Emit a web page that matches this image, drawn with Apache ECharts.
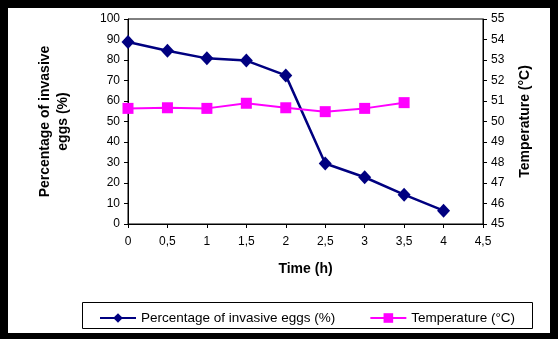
<!DOCTYPE html>
<html><head><meta charset="utf-8">
<script src="https://cdn.jsdelivr.net/npm/echarts@6/dist/echarts.min.js"></script>
<style>
html,body{margin:0;padding:0;background:#000;width:558px;height:339px;overflow:hidden}
#c{position:absolute;left:8px;top:8px;width:542px;height:325px;background:#fff}
</style></head><body>
<div id="c"></div>
<script>
const times = [0, 0.5, 1, 1.5, 2, 2.5, 3, 3.5, 4];
const invasive = [88.8, 84.5, 80.8, 79.7, 72.5, 29.5, 22.8, 14.3, 6.5];
const tempTimes = [0, 0.5, 1, 1.5, 2, 2.5, 3, 3.5];
const temperature = [50.64, 50.67, 50.64, 50.89, 50.67, 50.48, 50.64, 50.92];
const seriesNames = ['Percentage of invasive eggs (%)', 'Temperature (°C)'];

const F = 'Liberation Sans, Arial, sans-serif';
const chart = echarts.init(document.getElementById('c'), null, {renderer:'canvas'});
chart.setOption({
  animation:false,
  backgroundColor:'#fff',
  textStyle:{fontFamily:F},
  grid:{left:120, top:11, width:355, height:205, show:true, borderColor:'#000', borderWidth:1, backgroundColor:'transparent'},
  graphic:[{type:'rect', left:72, top:292, shape:{width:450, height:26}, style:{fill:'none', stroke:'#000', lineWidth:1}, z:-1}],
  legend:{
    left:86, top:298, itemWidth:36, itemHeight:12, itemGap:34,
    textStyle:{fontFamily:F, fontSize:13.5, color:'#000'},
    data:seriesNames
  },
  xAxis:{
    type:'value', min:0, max:4.5, interval:0.5,
    name:'Time (h)', nameLocation:'middle', nameGap:38,
    nameTextStyle:{fontFamily:F, fontSize:14, fontWeight:'bold', color:'#000'},
    axisLine:{show:true, lineStyle:{color:'#000', width:1}},
    axisTick:{show:true, length:4, lineStyle:{color:'#000'}},
    axisLabel:{color:'#000', fontSize:12, fontFamily:F, margin:12, formatter:v=>String(v).replace('.',',')},
    splitLine:{show:false}
  },
  yAxis:[{
    type:'value', min:0, max:100, interval:10, position:'left',
    name:'Percentage of invasive\neggs (%)', nameLocation:'middle', nameGap:56, nameRotate:90,
    nameTextStyle:{fontFamily:F, fontSize:14, fontWeight:'bold', color:'#000', lineHeight:18},
    axisLine:{show:true, lineStyle:{color:'#000', width:1}},
    axisTick:{show:true, length:4, lineStyle:{color:'#000'}},
    axisLabel:{color:'#000', fontSize:12, fontFamily:F, margin:8},
    splitLine:{show:false}
  },{
    type:'value', min:45, max:55, interval:1, position:'right',
    name:'Temperature (°C)', nameLocation:'middle', nameGap:35, nameRotate:90,
    nameTextStyle:{fontFamily:F, fontSize:14, fontWeight:'bold', color:'#000'},
    axisLine:{show:true, lineStyle:{color:'#000', width:1}},
    axisTick:{show:true, length:4, lineStyle:{color:'#000'}},
    axisLabel:{color:'#000', fontSize:12, fontFamily:F, margin:8},
    splitLine:{show:false}
  }],
  series:[{
    name:seriesNames[0], type:'line', yAxisIndex:0,
    data:times.map((t,i)=>[t, invasive[i]]),
    symbol:'diamond', symbolSize:[13,14], color:'#000080',
    lineStyle:{width:2.5, color:'#000080'}, itemStyle:{color:'#000080'}
  },{
    name:seriesNames[1], type:'line', yAxisIndex:1,
    data:tempTimes.map((t,i)=>[t, temperature[i]]),
    symbol:'rect', symbolSize:11, color:'#FF00FF',
    lineStyle:{width:2, color:'#FF00FF'}, itemStyle:{color:'#FF00FF'}
  }]
});
</script></body></html>
